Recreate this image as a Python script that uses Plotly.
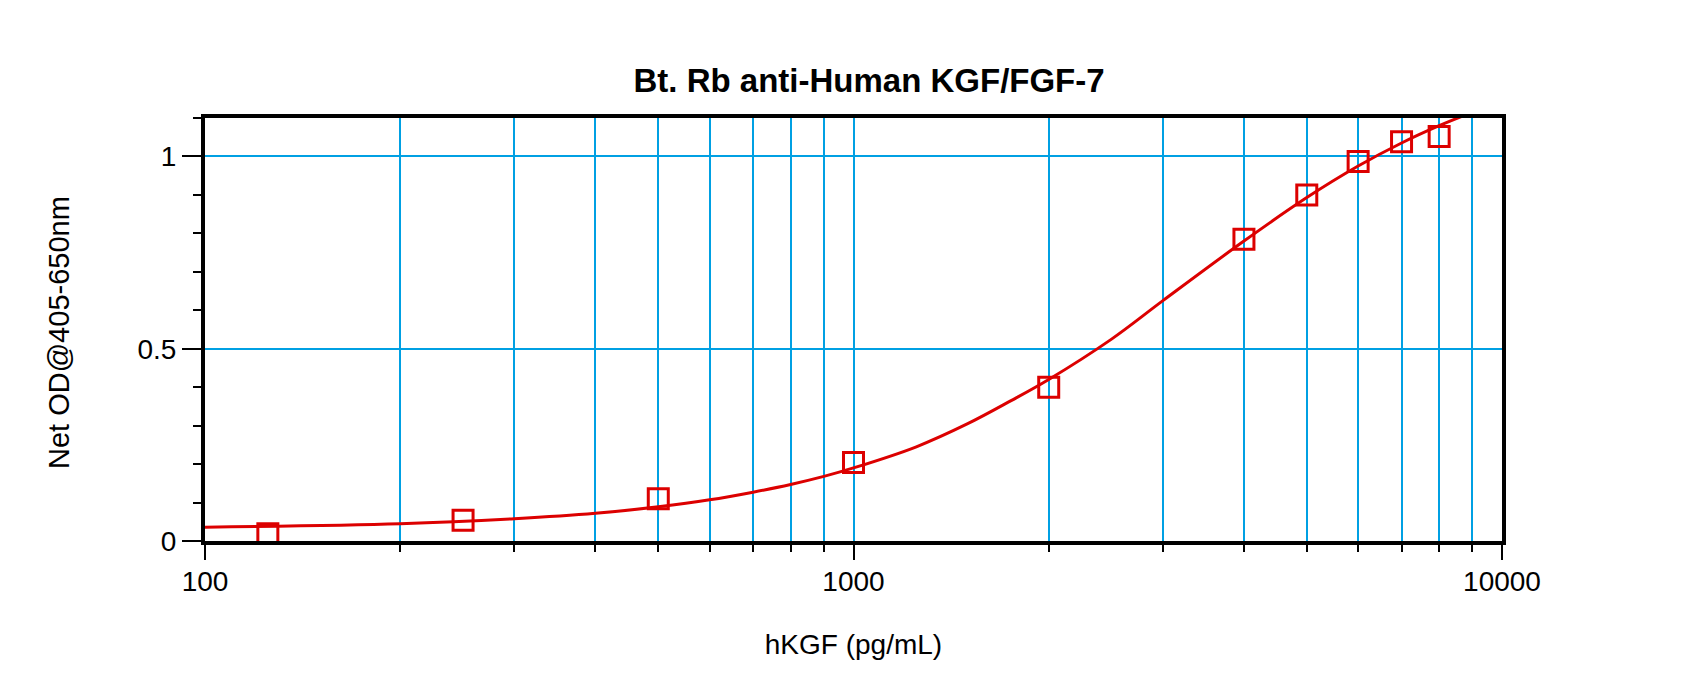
import plotly.graph_objects as go

# --- standard points (pg/mL vs net OD) ---
conc = [125, 250, 500, 1000, 2000, 4000, 5000, 6000, 7000, 8000]
od = [0.019, 0.054, 0.110, 0.204, 0.400, 0.785, 0.900, 0.987, 1.038, 1.052]

# --- fitted curve ---
fit_x = [100, 200, 300, 400, 500, 600, 700, 800, 900, 1000, 1250, 1500,
         1750, 2000, 2500, 3000, 4000, 5000, 6000, 7000, 8000, 9000]
fit_y = [0.036, 0.045, 0.058, 0.072, 0.089, 0.107, 0.127, 0.147, 0.168, 0.190,
         0.245, 0.305, 0.365, 0.420, 0.525, 0.625, 0.780, 0.893, 0.975, 1.035,
         1.080, 1.115]

# --- axis ticks ---
x_ticks = [100, 1000, 10000]
x_labels = ["100", "1000", "10000"]
x_minor = [200, 300, 400, 500, 600, 700, 800, 900,
           2000, 3000, 4000, 5000, 6000, 7000, 8000, 9000]
y_ticks = [0, 0.5, 1]
y_labels = ["0", "0.5", "1"]

RED = "#DC0000"
GRID = "#00A0E3"
FONT = "Liberation Sans, Arial, sans-serif"

W, H = 1700, 691
ML, MR, MT, MB = 197, 206, 110, 158

fig = go.Figure()

fig.add_trace(go.Scatter(
    x=fit_x, y=fit_y, mode="lines", line=dict(color=RED, width=3, shape="spline"),
    hoverinfo="skip", showlegend=False,
))
fig.add_trace(go.Scatter(
    x=conc, y=od, mode="markers",
    marker=dict(symbol="square-open", size=20, color=RED, line=dict(color=RED, width=3)),
    showlegend=False,
))

fig.update_layout(
    width=W, height=H,
    margin=dict(l=ML, r=MR, t=MT, b=MB),
    paper_bgcolor="white", plot_bgcolor="white",
    font=dict(family=FONT, color="black", size=28),
    title=dict(
        text="<b>Bt. Rb anti-Human KGF/FGF-7</b>",
        font=dict(family=FONT, size=33, color="black"),
        x=0.512, xref="paper", xanchor="center",
        y=1 - 72 / H, yref="container", yanchor="middle",
    ),
    annotations=[dict(
        text="Net OD@405-650nm", textangle=-90,
        x=(51 - ML) / (W - ML - MR), xref="paper", xanchor="center",
        y=(H - MB - 325) / (H - MT - MB), yref="paper", yanchor="middle",
        showarrow=False, font=dict(family=FONT, size=29, color="black"),
    )],
)

fig.update_xaxes(
    type="log", range=[2, 4],
    tickmode="array", tickvals=x_ticks, ticktext=x_labels,
    ticks="outside", ticklen=15, tickwidth=2, tickcolor="black",
    ticklabelstandoff=-3,
    showgrid=True, gridcolor=GRID, gridwidth=1.5,
    minor=dict(tickmode="array", tickvals=x_minor, ticks="outside", ticklen=7,
               tickwidth=2, tickcolor="black", showgrid=True, gridcolor=GRID, gridwidth=1.5),
    showline=True, linecolor="black", linewidth=4, mirror=True,
    zeroline=False,
    title=dict(text="hKGF (pg/mL)", font=dict(family=FONT, size=28), standoff=40),
)
fig.update_yaxes(
    range=[0, 1.1],
    tickmode="array", tickvals=y_ticks, ticktext=y_labels,
    ticks="outside", ticklen=19, tickwidth=2, tickcolor="black",
    ticklabelstandoff=0,
    showgrid=True, gridcolor=GRID, gridwidth=1.5,
    minor=dict(dtick=0.1, ticks="outside", ticklen=8, tickwidth=2, tickcolor="black",
               showgrid=False),
    showline=True, linecolor="black", linewidth=4, mirror=True,
    zeroline=False,
)

fig.write_html("out.html")
